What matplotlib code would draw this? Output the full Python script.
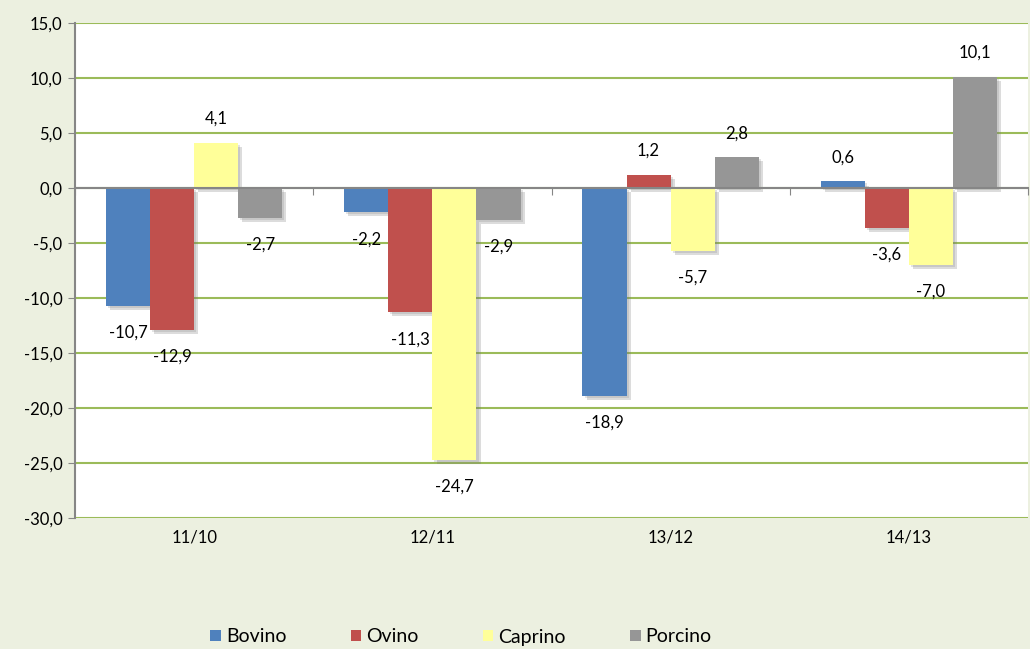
import numpy as np
import matplotlib
matplotlib.use("Agg")
import matplotlib.pyplot as plt
import matplotlib.patheffects as pe
from matplotlib.patches import Patch
from matplotlib.ticker import FuncFormatter, FixedLocator

plt.rcParams['font.family'] = ['Lato', 'DejaVu Sans']

# data
periodos = ['11/10', '12/11', '13/12', '14/13']
especies = ['Bovino', 'Ovino', 'Caprino', 'Porcino']
bovino = [-10.7, -2.2, -18.9, 0.6]
ovino = [-12.9, -11.3, 1.2, -3.6]
caprino = [4.1, -24.7, -5.7, -7.0]
porcino = [-2.7, -2.9, 2.8, 10.1]
colores = ['#4F81BD', '#C0504D', '#FFFF99', '#969696']

series = [bovino, ovino, caprino, porcino]

fondo = '#ECF0E0'
fig = plt.figure(figsize=(10.3, 6.49), dpi=100, facecolor=fondo)
ax = fig.add_axes([75 / 1030, 1 - 518 / 649, (1028 - 75) / 1030, 495 / 649])
ax.set_facecolor('white')

x = np.arange(len(periodos))
w = 0.185
sombra = [pe.SimplePatchShadow(offset=(3, -3), shadow_rgbFace='#777777', alpha=0.25),
          pe.SimplePatchShadow(offset=(1.5, -1.5), shadow_rgbFace='#777777', alpha=0.2),
          pe.Normal()]

for k, (vals, col) in enumerate(zip(series, colores)):
    pos = x + (k - 1.5) * w
    bars = ax.bar(pos, vals, width=w, color=col, zorder=3)
    for b in bars:
        b.set_path_effects(sombra)
    for px, v in zip(pos, vals):
        off = 24 if v >= 0 else -27
        ax.annotate(f'{v:.1f}'.replace('.', ','), (px, v), xytext=(0, off),
                    textcoords='offset pixels', ha='center', va='center',
                    fontsize=12, color='black', zorder=5)

ax.set_xlim(-0.5, len(periodos) - 0.5)
ax.set_ylim(-30, 15)
ax.yaxis.set_major_locator(FixedLocator(np.arange(-30, 16, 5)))
ax.yaxis.set_major_formatter(FuncFormatter(lambda v, p: f'{v:.1f}'.replace('.', ',')))
ax.grid(axis='y', color='#9BBB59', linewidth=1.5, zorder=1)
ax.tick_params(axis='y', length=5, color='#868686', labelsize=12, pad=4)

# category axis on zero line
for s in ['top', 'right']:
    ax.spines[s].set_visible(False)
ax.spines['left'].set_color('#868686')
ax.spines['left'].set_linewidth(1.5)
ax.spines['bottom'].set_position(('data', 0))
ax.spines['bottom'].set_color('#868686')
ax.spines['bottom'].set_linewidth(1.5)
ax.spines['bottom'].set_zorder(4)
ax.set_xticks(np.arange(len(periodos) + 1) - 0.5)
ax.set_xticklabels([])
ax.tick_params(axis='x', length=5, color='#868686', direction='out')
for xi, lab in zip(x, periodos):
    ax.text(xi, -0.04, lab, transform=ax.get_xaxis_transform(), ha='center', va='center',
            fontsize=12)

handles = [Patch(facecolor=c, edgecolor='none') for c in colores]
fig.legend(handles, especies, loc='center', bbox_to_anchor=(461 / 1030, 1 - 637 / 649),
           ncol=4, frameon=False, fontsize=14, handlelength=0.55, handleheight=0.55,
           handletextpad=0.25, columnspacing=3.3)

fig.savefig('out.png', dpi=100, facecolor=fondo)
